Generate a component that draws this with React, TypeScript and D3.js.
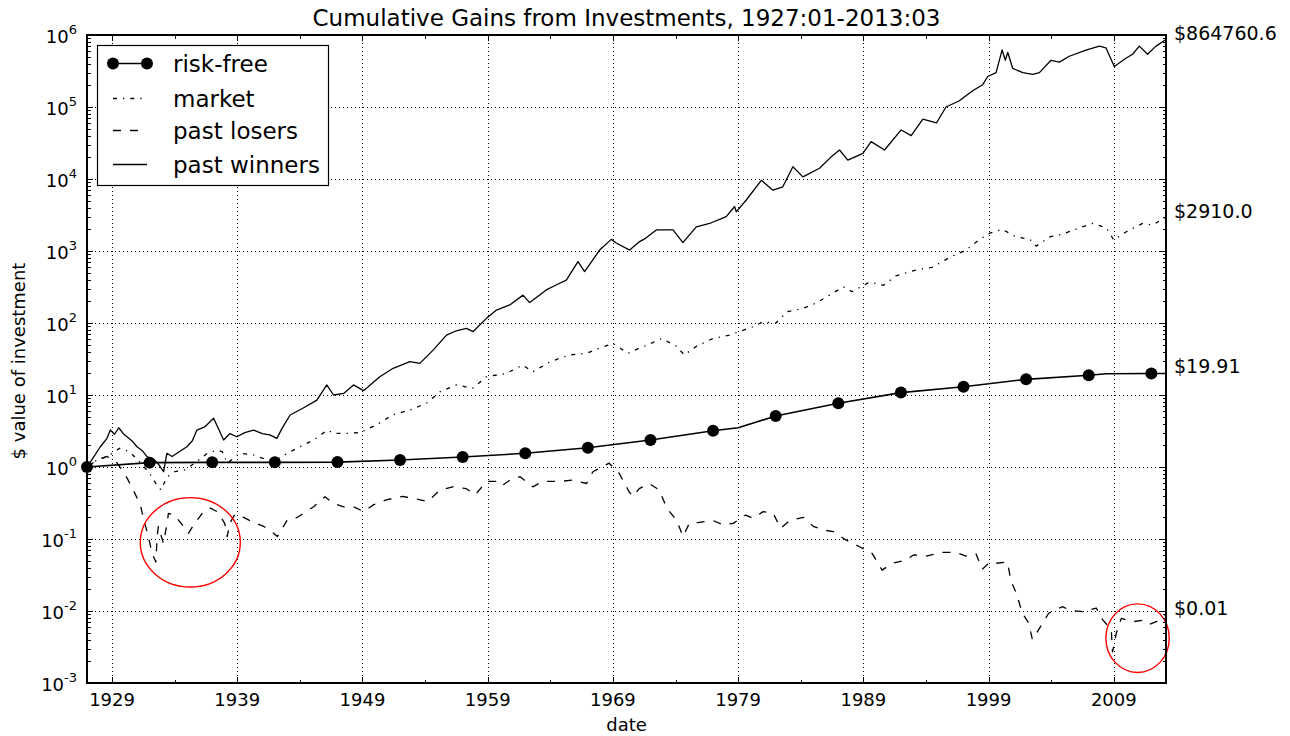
import React from 'react';
import * as d3 from 'd3';

// values, [decimal year, $ value]
const riskFree: [number, number][] = [
  [1927.0, 1.0], [1932.0, 1.15], [1937.0, 1.16], [1942.0, 1.16], [1947.0, 1.17],
  [1952.0, 1.25], [1957.0, 1.38], [1962.0, 1.55], [1967.0, 1.85], [1972.0, 2.37],
  [1977.0, 3.19], [1979.0, 3.5], [1982.0, 5.11], [1987.0, 7.67], [1992.0, 10.8],
  [1997.0, 13.0], [2002.0, 16.5], [2007.0, 18.8], [2008.4, 19.7], [2012.0, 19.9],
  [2013.17, 19.91],
];

const market: [number, number][] = [
  [1927.0, 1.0], [1927.8, 1.25], [1928.6, 1.39], [1929.6, 1.82], [1930.4, 1.63],
  [1931.2, 1.18], [1932.0, 0.82], [1932.5, 0.59], [1932.9, 0.48], [1933.4, 0.73],
  [1934.0, 0.86], [1934.8, 0.91], [1935.6, 1.13], [1936.6, 1.55], [1937.4, 1.72],
  [1937.8, 1.63], [1938.2, 1.13], [1939.2, 1.55], [1940.3, 1.47], [1941.4, 1.25],
  [1941.9, 1.2], [1943.0, 1.55], [1944.0, 1.91], [1945.1, 2.37], [1946.2, 3.26],
  [1946.7, 2.94], [1947.8, 2.94], [1948.8, 3.0], [1950.1, 3.83], [1951.4, 5.28],
  [1952.8, 6.2], [1954.1, 7.67], [1955.2, 11.1], [1956.5, 13.8], [1957.8, 12.4],
  [1958.9, 17.9], [1960.5, 20], [1961.8, 26], [1962.6, 21], [1964.0, 29],
  [1965.5, 36], [1966.9, 38], [1967.9, 44.7], [1969.0, 52], [1970.2, 38],
  [1971.1, 44.7], [1971.7, 49], [1972.9, 61], [1974.1, 47], [1974.7, 36],
  [1975.7, 48], [1977.0, 61], [1978.3, 68], [1979.1, 76], [1980.2, 89],
  [1981.0, 104], [1982.0, 99], [1982.9, 143], [1984.2, 160], [1985.2, 188],
  [1986.3, 244], [1987.4, 318], [1988.1, 272], [1989.5, 370], [1990.6, 334],
  [1991.6, 450], [1993.2, 545], [1994.5, 594], [1995.9, 818], [1997.2, 1030],
  [1998.3, 1450], [1999.1, 1770], [2000.1, 2000], [2001.2, 1570], [2002.3, 1450],
  [2002.8, 1170], [2003.9, 1570], [2004.9, 1720], [2006.3, 2100], [2007.3, 2420],
  [2008.4, 2100], [2009.0, 1420], [2010.0, 1850], [2011.3, 2420], [2012.1, 2300],
  [2012.8, 2710], [2013.17, 2910],
];

const losers: [number, number][] = [
  [1927.0, 1.0], [1927.8, 1.25], [1928.6, 1.4], [1929.3, 1.2], [1929.7, 0.96],
  [1930.2, 0.7], [1930.5, 0.56], [1931.0, 0.37], [1931.3, 0.28], [1931.4, 0.23],
  [1931.9, 0.108], [1932.2, 0.063], [1932.5, 0.048], [1932.6, 0.108], [1932.7, 0.15],
  [1933.1, 0.087], [1933.4, 0.165], [1933.5, 0.227], [1934.0, 0.215], [1934.7, 0.15],
  [1935.1, 0.12], [1935.6, 0.165], [1936.2, 0.227], [1936.8, 0.27], [1937.4, 0.24],
  [1938.0, 0.165], [1938.2, 0.108], [1938.4, 0.165], [1938.8, 0.22], [1939.5, 0.2],
  [1940.3, 0.17], [1941.1, 0.15], [1941.9, 0.12], [1942.2, 0.108], [1943.0, 0.184],
  [1943.8, 0.2], [1945.1, 0.28], [1946.0, 0.387], [1946.7, 0.31], [1947.5, 0.28],
  [1948.3, 0.28], [1949.1, 0.24], [1949.9, 0.3], [1950.9, 0.35], [1952.2, 0.39],
  [1953.6, 0.35], [1954.2, 0.33], [1955.2, 0.48], [1956.2, 0.53], [1957.3, 0.5],
  [1958.0, 0.41], [1958.9, 0.63], [1960.0, 0.63], [1960.2, 0.56], [1961.0, 0.7],
  [1961.6, 0.73], [1962.6, 0.53], [1963.4, 0.63], [1964.8, 0.63], [1965.8, 0.66],
  [1966.9, 0.59], [1967.4, 0.86], [1968.7, 1.13], [1969.0, 1.0], [1969.5, 0.82],
  [1970.3, 0.45], [1970.6, 0.39], [1971.1, 0.5], [1971.9, 0.59], [1972.7, 0.48],
  [1973.3, 0.27], [1974.1, 0.18], [1974.6, 0.108], [1975.1, 0.165], [1975.9, 0.17],
  [1977.0, 0.18], [1977.8, 0.157], [1978.6, 0.165], [1979.6, 0.215], [1980.2, 0.194],
  [1981.0, 0.24], [1981.8, 0.227], [1982.4, 0.14], [1983.1, 0.18], [1984.2, 0.2],
  [1985.0, 0.15], [1985.8, 0.133], [1986.6, 0.127], [1987.6, 0.097], [1988.7, 0.078],
  [1989.7, 0.063], [1990.5, 0.037], [1991.3, 0.046], [1992.4, 0.051], [1993.0, 0.06],
  [1994.0, 0.058], [1995.3, 0.065], [1996.4, 0.065], [1997.2, 0.058], [1998.0, 0.062],
  [1998.5, 0.038], [1999.1, 0.048], [1999.6, 0.046], [2000.5, 0.048], [2000.8, 0.026],
  [2001.2, 0.018], [2001.7, 0.0093], [2002.2, 0.0068], [2002.5, 0.004], [2003.0, 0.0055],
  [2003.8, 0.0093], [2004.9, 0.0115], [2005.5, 0.0102], [2006.6, 0.0098], [2007.6, 0.011],
  [2008.1, 0.0076], [2008.8, 0.0055], [2008.9, 0.0027], [2009.2, 0.0049], [2009.6, 0.0079],
  [2010.5, 0.0071], [2011.3, 0.0074], [2011.8, 0.0065], [2012.4, 0.0071], [2013.17, 0.0088],
];

const winners: [number, number][] = [
  [1927.0, 1.0], [1927.5, 1.35], [1928.06, 1.91], [1928.6, 2.5], [1928.86, 3.27],
  [1929.2, 2.85], [1929.53, 3.51], [1929.9, 2.9], [1930.19, 2.63], [1930.6, 2.3],
  [1930.99, 1.91], [1931.4, 1.7], [1931.79, 1.39], [1932.32, 1.28], [1932.7, 1.1],
  [1933.12, 0.86], [1933.38, 1.55], [1933.8, 1.4], [1934.18, 1.55], [1934.98, 1.91],
  [1935.4, 2.3], [1935.78, 3.26], [1936.4, 3.6], [1937.11, 4.75], [1937.5, 3.4],
  [1937.91, 2.37], [1938.4, 2.9], [1938.97, 2.63], [1939.6, 3.0], [1940.3, 3.26],
  [1941.0, 2.9], [1941.6, 2.8], [1942.16, 2.5], [1942.6, 3.5], [1943.22, 5.28],
  [1944.2, 6.5], [1945.36, 8.5], [1946.15, 13.8], [1946.69, 10.0], [1947.5, 10.5],
  [1948.28, 13.8], [1949.08, 11.5], [1949.32, 12.4], [1950.38, 17.9], [1951.45, 23.5],
  [1952.78, 29], [1953.58, 27.5], [1954.64, 42], [1955.71, 68], [1956.5, 78],
  [1957.3, 84], [1957.84, 76], [1958.9, 116], [1959.7, 151], [1960.76, 178],
  [1961.82, 244], [1962.35, 192], [1963.68, 288], [1964.5, 340], [1965.28, 395],
  [1966.21, 710], [1966.74, 518], [1967.94, 1030], [1968.87, 1450], [1969.27, 1290],
  [1970.34, 1030], [1971.13, 1350], [1971.6, 1500], [1972.47, 1960], [1973.8, 1960],
  [1974.59, 1310], [1975.66, 2160], [1976.72, 2410], [1978.05, 3000], [1978.72, 4150],
  [1978.85, 3500], [1979.65, 5110], [1980.85, 9600], [1981.78, 7000], [1982.57, 7800],
  [1983.37, 14800], [1984.17, 10700], [1985.5, 14100], [1986.43, 20300], [1987.1, 25300],
  [1987.76, 18300], [1988.96, 22700], [1989.62, 33000], [1990.69, 25300], [1992.02, 48000],
  [1992.82, 40000], [1993.75, 68000], [1994.84, 60000], [1995.6, 100000], [1996.67, 122000],
  [1997.73, 168000], [1998.53, 204000], [1998.93, 265000], [1999.6, 300000], [2000.08, 620000],
  [2000.34, 445000], [2000.53, 575000], [2000.93, 343000], [2001.73, 300000], [2002.53, 283000],
  [2003.06, 300000], [2003.99, 445000], [2004.65, 420000], [2005.45, 507000], [2006.78, 615000],
  [2007.85, 700000], [2008.38, 660000], [2009.04, 366000], [2009.97, 475000], [2010.5, 540000],
  [2011.04, 700000], [2011.7, 540000], [2012.37, 700000], [2013.17, 864760.6],
];

const endLabels = ['$864760.6', '$2910.0', '$19.91', '$0.01'];
const legendNames = ['risk-free', 'market', 'past losers', 'past winners'];
const xMajor = [1929, 1939, 1949, 1959, 1969, 1979, 1989, 1999, 2009];
const xMinor = [1934, 1944, 1954, 1964, 1974, 1984, 1994, 2004];
const yExponents = [-3, -2, -1, 0, 1, 2, 3, 4, 5, 6];

const W = 1290;
const H = 736;
const L = 87;
const R = 1166;
const T = 35;
const B = 683;
const FONT = '"DejaVu Sans", sans-serif';
const DASH_MARKET = '4,6,1.3,6';
const DASH_LOSERS = '8,9';

const App = () => {
  const x = d3.scaleLinear().domain([1927, 2013.17]).range([L, R]);
  const y = d3.scaleLog().domain([1e-3, 1e6]).range([B, T]);
  const line = d3.line<[number, number]>().x(d => x(d[0])).y(d => y(d[1]));
  const snap = (v: number) => Math.round(v) + 0.5;

  const minorY: number[] = [];
  for (let e = -3; e < 6; e++) {
    for (let m = 2; m <= 9; m++) minorY.push(m * Math.pow(10, e));
  }

  const markers = riskFree.filter(d => Number.isInteger(d[0]) && (d[0] - 1927) % 5 === 0);
  const series = [winners, market, riskFree, losers];

  const legendY = [63.5, 98.5, 130.5, 164.5];
  const legendDash = ['', DASH_MARKET, DASH_LOSERS, ''];

  return (
    <svg width={W} height={H} style={{ position: 'absolute', left: 0, top: 0, background: '#fff' }}
      fontFamily={FONT}>
      <rect x={0} y={0} width={W} height={H} fill="#fff" />

      {/* grid */}
      <g stroke="#000" strokeWidth={1} strokeDasharray="1,3" shapeRendering="crispEdges">
        {xMajor.map(t => (
          <line key={'gx' + t} x1={snap(x(t))} x2={snap(x(t))} y1={T} y2={B} />
        ))}
        {yExponents.filter(e => e > -3 && e < 6).map(e => (
          <line key={'gy' + e} x1={L} x2={R} y1={snap(y(Math.pow(10, e)))} y2={snap(y(Math.pow(10, e)))} />
        ))}
      </g>

      {/* series */}
      <g fill="none" stroke="#000" strokeWidth={1.3} strokeLinejoin="round">
        <path d={line(winners) || ''} />
        <path d={line(market) || ''} strokeDasharray={DASH_MARKET} />
        <path d={line(losers) || ''} strokeDasharray={DASH_LOSERS} />
        <path d={line(riskFree) || ''} strokeWidth={1.6} />
      </g>
      {markers.map(d => (
        <circle key={'m' + d[0]} cx={x(d[0])} cy={y(d[1])} r={6} fill="#000" />
      ))}

      {/* highlight circles */}
      <g fill="none" stroke="#ff0000" strokeWidth={1.4}>
        <ellipse cx={x(1935.25)} cy={y(0.09)} rx={50} ry={44.7} />
        <ellipse cx={x(2010.9)} cy={y(0.0042)} rx={31.7} ry={34.3} />
      </g>

      {/* frame and ticks */}
      <g stroke="#000" strokeWidth={1.2} shapeRendering="crispEdges">
        {xMajor.map(t => (
          <g key={'tx' + t}>
            <line x1={snap(x(t))} x2={snap(x(t))} y1={B} y2={B - 6} />
            <line x1={snap(x(t))} x2={snap(x(t))} y1={T} y2={T + 6} />
          </g>
        ))}
        {xMinor.map(t => (
          <g key={'tmx' + t}>
            <line x1={snap(x(t))} x2={snap(x(t))} y1={B} y2={B - 3.5} />
            <line x1={snap(x(t))} x2={snap(x(t))} y1={T} y2={T + 3.5} />
          </g>
        ))}
        {yExponents.map(e => (
          <g key={'ty' + e}>
            <line x1={L} x2={L + 6} y1={snap(y(Math.pow(10, e)))} y2={snap(y(Math.pow(10, e)))} />
            <line x1={R} x2={R - 6} y1={snap(y(Math.pow(10, e)))} y2={snap(y(Math.pow(10, e)))} />
          </g>
        ))}
        {minorY.map(v => (
          <g key={'tmy' + v}>
            <line x1={L} x2={L + 3.5} y1={snap(y(v))} y2={snap(y(v))} />
            <line x1={R} x2={R - 3.5} y1={snap(y(v))} y2={snap(y(v))} />
          </g>
        ))}
        <rect x={L} y={T} width={R - L} height={B - T} fill="none" />
      </g>

      {/* tick labels */}
      <g fontSize={18} fill="#000">
        {xMajor.map(t => (
          <text key={'lx' + t} x={x(t)} y={706} textAnchor="middle">{t}</text>
        ))}
        {yExponents.map(e => (
          <text key={'ly' + e} x={77} y={y(Math.pow(10, e)) + 7.5} textAnchor="end">
            10<tspan fontSize={13} dy={-9}>{e}</tspan>
          </text>
        ))}
      </g>

      {/* end value labels */}
      <g fontSize={19} fill="#000">
        {series.map((s, i) => (
          <text key={'el' + i} x={1174} y={y(s[s.length - 1][1])}>{endLabels[i]}</text>
        ))}
      </g>

      {/* titles */}
      <text x={(L + R) / 2} y={26} textAnchor="middle" fontSize={23}>
        Cumulative Gains from Investments, 1927:01-2013:03
      </text>
      <text x={(L + R) / 2} y={731} textAnchor="middle" fontSize={18}>date</text>
      <text transform={`translate(25, ${(T + B) / 2 + 2}) rotate(-90)`} textAnchor="middle" fontSize={18}>
        $ value of investment
      </text>

      {/* legend */}
      <g>
        <rect x={97.5} y={45.5} width={231} height={140} fill="#fff" stroke="#000" strokeWidth={1.2} />
        {legendNames.map((name, i) => (
          <g key={'lg' + i}>
            <line x1={113} x2={147} y1={legendY[i]} y2={legendY[i]} stroke="#000"
              strokeWidth={i === 0 ? 1.6 : 1.3}
              strokeDasharray={legendDash[i] || undefined} />
            {i === 0 && (
              <>
                <circle cx={113} cy={legendY[0]} r={6} fill="#000" />
                <circle cx={147} cy={legendY[0]} r={6} fill="#000" />
              </>
            )}
            <text x={173} y={legendY[i] + 8.5} fontSize={23}>{name}</text>
          </g>
        ))}
      </g>
    </svg>
  );
};

export default App;
